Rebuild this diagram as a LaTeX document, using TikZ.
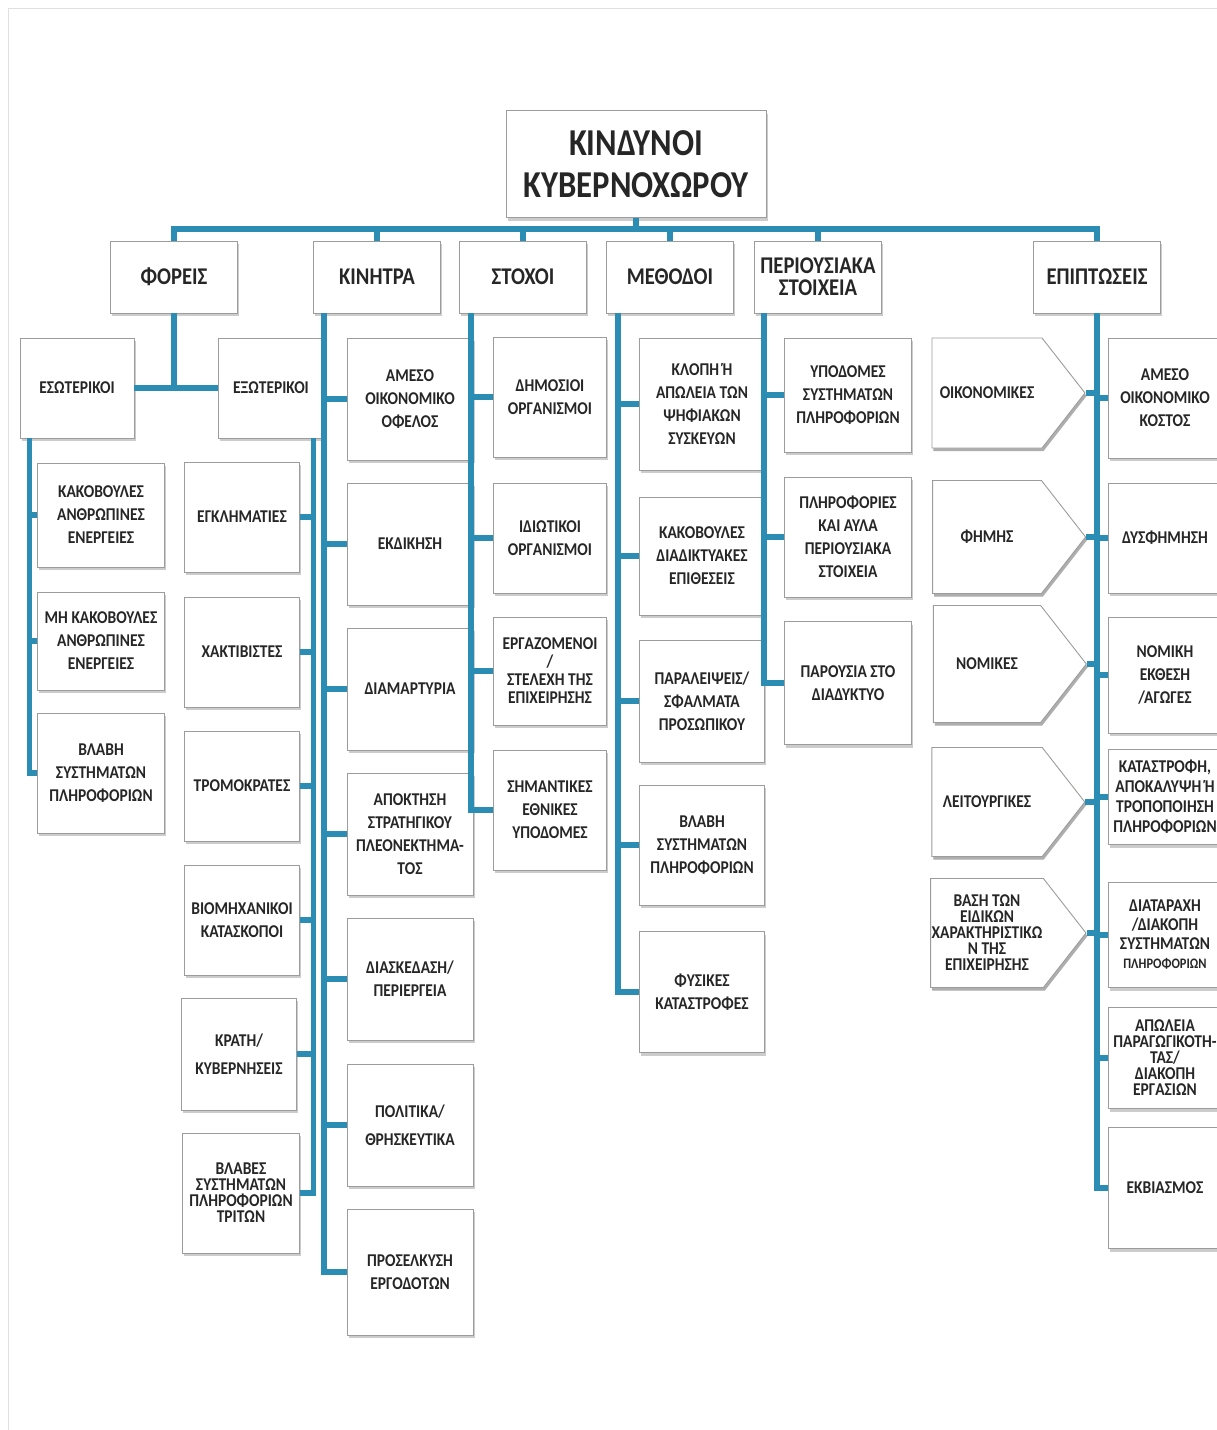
\documentclass[tikz,border=0pt]{standalone}
\usepackage{fontspec}
\setmainfont{Carlito}[FakeStretch=0.86]
\usepackage{tikz}
\usetikzlibrary{positioning,shadows,shapes.symbols}
\definecolor{cLine}{HTML}{2B8DB3}
\definecolor{cEdge}{HTML}{9C9C9C}
\definecolor{cTxt}{HTML}{262626}
\tikzset{
  box/.style={draw=cEdge,line width=0.9pt,fill=white,align=center,text=cTxt,
              inner sep=1pt,
              drop shadow={shadow xshift=1.5pt,shadow yshift=-3pt,opacity=.4}},
  sz/.style 2 args={minimum width=#1pt,minimum height=#2pt},
  title/.style={box,font=\bfseries\fontsize{38}{42}\selectfont},
  head/.style={box,sz={127}{72},font=\bfseries\fontsize{24}{22}\selectfont},
  leaf/.style={box,font=\bfseries\fontsize{18}{23}\selectfont},
  tight/.style={font=\bfseries\fontsize{18}{16}\selectfont},
  pent/.style={box,signal,signal to=east,signal pointer angle=104},
  bus/.style={draw=cLine,line width=5.5pt},
}

\begin{document}
\begin{tikzpicture}[x=1pt,y=-1pt]
  \useasboundingbox (0,0) rectangle (1217,1430);
  \clip (0,0) rectangle (1217,1430);
  \draw[black!12] (8,1430) -- (8,8) -- (1217,8);

  % root and first level
  \node[title,sz={260}{107}] (tit) at (636,164) {ΚΙΝΔΥΝΟΙ\\ΚΥΒΕΡΝΟΧΩΡΟΥ};
  \node[head] (hFor) at (174,277) {ΦΟΡΕΙΣ};
  \node[head] (hKin) at (377,277) {ΚΙΝΗΤΡΑ};
  \node[head] (hSto) at (523,277) {ΣΤΟΧΟΙ};
  \node[head] (hMet) at (670,277) {ΜΕΘΟΔΟΙ};
  \node[head] (hPer) at (818,277) {ΠΕΡΙΟΥΣΙΑΚΑ\\ΣΤΟΙΧΕΙΑ};
  \node[head] (hEpi) at (1097,277) {ΕΠΙΠΤΩΣΕΙΣ};

  % carriers
  \node[leaf,sz={114}{100}] (fIn) at (77,388) {ΕΣΩΤΕΡΙΚΟΙ};
  \node[leaf,sz={106}{100}] (fEx) at (271,388) {ΕΞΩΤΕΡΙΚΟΙ};
  \node[leaf,sz={127}{104}] (fin1) at (101,515) {ΚΑΚΟΒΟΥΛΕΣ\\ΑΝΘΡΩΠΙΝΕΣ\\ΕΝΕΡΓΕΙΕΣ};
  \node[leaf,sz={127}{98}]  (fin2) at (101,641) {ΜΗ ΚΑΚΟΒΟΥΛΕΣ\\ΑΝΘΡΩΠΙΝΕΣ\\ΕΝΕΡΓΕΙΕΣ};
  \node[leaf,sz={127}{120}] (fin3) at (101,773) {ΒΛΑΒΗ\\ΣΥΣΤΗΜΑΤΩΝ\\ΠΛΗΡΟΦΟΡΙΩΝ};
  \node[leaf,sz={115}{110}] (fex1) at (242,517) {ΕΓΚΛΗΜΑΤΙΕΣ};
  \node[leaf,sz={115}{110}] (fex2) at (242,652) {ΧΑΚΤΙΒΙΣΤΕΣ};
  \node[leaf,sz={115}{110}] (fex3) at (242,786) {ΤΡΟΜΟΚΡΑΤΕΣ};
  \node[leaf,sz={115}{110}] (fex4) at (242,920) {ΒΙΟΜΗΧΑΝΙΚΟΙ\\ΚΑΤΑΣΚΟΠΟΙ};
  \node[leaf,sz={115}{112}] (fex5) at (239,1054) {ΚΡΑΤΗ/\\[5pt]ΚΥΒΕΡΝΗΣΕΙΣ};
  \node[leaf,tight,sz={117}{120}] (fex6) at (241,1193) {ΒΛΑΒΕΣ\\ΣΥΣΤΗΜΑΤΩΝ\\ΠΛΗΡΟΦΟΡΙΩΝ\\ΤΡΙΤΩΝ};

  % motives
  \node[leaf,sz={126}{122}] (kin1) at (410,399) {ΑΜΕΣΟ\\ΟΙΚΟΝΟΜΙΚΟ\\ΟΦΕΛΟΣ};
  \node[leaf,sz={126}{122}] (kin2) at (410,544) {ΕΚΔΙΚΗΣΗ};
  \node[leaf,sz={126}{122}] (kin3) at (410,689) {ΔΙΑΜΑΡΤΥΡΙΑ};
  \node[leaf,sz={126}{122}] (kin4) at (410,834) {ΑΠΟΚΤΗΣΗ\\ΣΤΡΑΤΗΓΙΚΟΥ\\ΠΛΕΟΝΕΚΤΗΜΑ-\\ΤΟΣ};
  \node[leaf,sz={126}{122}] (kin5) at (410,979) {ΔΙΑΣΚΕΔΑΣΗ/\\ΠΕΡΙΕΡΓΕΙΑ};
  \node[leaf,sz={126}{122}] (kin6) at (410,1125) {ΠΟΛΙΤΙΚΑ/\\[5pt]ΘΡΗΣΚΕΥΤΙΚΑ};
  \node[leaf,sz={126}{126}] (kin7) at (410,1272) {ΠΡΟΣΕΛΚΥΣΗ\\ΕΡΓΟΔΟΤΩΝ};

  % targets
  \node[leaf,sz={113}{120}] (sto1) at (550,397) {ΔΗΜΟΣΙΟΙ\\ΟΡΓΑΝΙΣΜΟΙ};
  \node[leaf,sz={113}{110}] (sto2) at (550,538) {ΙΔΙΩΤΙΚΟΙ\\ΟΡΓΑΝΙΣΜΟΙ};
  \node[leaf,sz={113}{108},font=\bfseries\fontsize{18}{18}\selectfont] (sto3) at (550,671)
    {ΕΡΓΑΖΟΜΕΝΟΙ\\/\\ΣΤΕΛΕΧΗ ΤΗΣ\\ΕΠΙΧΕΙΡΗΣΗΣ};
  \node[leaf,sz={113}{120}] (sto4) at (550,810) {ΣΗΜΑΝΤΙΚΕΣ\\ΕΘΝΙΚΕΣ\\ΥΠΟΔΟΜΕΣ};

  % methods
  \node[leaf,sz={125}{132}] (met1) at (702,404) {ΚΛΟΠΗ Ή\\ΑΠΩΛΕΙΑ ΤΩΝ\\ΨΗΦΙΑΚΩΝ\\ΣΥΣΚΕΥΩΝ};
  \node[leaf,sz={125}{118}] (met2) at (702,556) {ΚΑΚΟΒΟΥΛΕΣ\\ΔΙΑΔΙΚΤΥΑΚΕΣ\\ΕΠΙΘΕΣΕΙΣ};
  \node[leaf,sz={125}{122}] (met3) at (702,701) {ΠΑΡΑΛΕΙΨΕΙΣ/\\ΣΦΑΛΜΑΤΑ\\ΠΡΟΣΩΠΙΚΟΥ};
  \node[leaf,sz={125}{120}] (met4) at (702,845) {ΒΛΑΒΗ\\ΣΥΣΤΗΜΑΤΩΝ\\ΠΛΗΡΟΦΟΡΙΩΝ};
  \node[leaf,sz={125}{121}] (met5) at (702,992) {ΦΥΣΙΚΕΣ\\ΚΑΤΑΣΤΡΟΦΕΣ};

  % assets
  \node[leaf,sz={127}{114}] (per1) at (848,395) {ΥΠΟΔΟΜΕΣ\\ΣΥΣΤΗΜΑΤΩΝ\\ΠΛΗΡΟΦΟΡΙΩΝ};
  \node[leaf,sz={127}{120}] (per2) at (848,537) {ΠΛΗΡΟΦΟΡΙΕΣ\\ΚΑΙ ΑΥΛΑ\\ΠΕΡΙΟΥΣΙΑΚΑ\\ΣΤΟΙΧΕΙΑ};
  \node[leaf,sz={127}{123}] (per3) at (848,683) {ΠΑΡΟΥΣΙΑ ΣΤΟ\\ΔΙΑΔΥΚΤΥΟ};

  % impacts
  \node[pent,leaf,sz={153}{110}] (epL1) at (987,393) {ΟΙΚΟΝΟΜΙΚΕΣ};
  \node[pent,leaf,sz={153}{113}] (epL2) at (987,537) {ΦΗΜΗΣ};
  \node[pent,leaf,sz={153}{117}] (epL3) at (987,664) {ΝΟΜΙΚΕΣ};
  \node[pent,leaf,sz={153}{109}] (epL4) at (987,802) {ΛΕΙΤΟΥΡΓΙΚΕΣ};
  \node[pent,leaf,tight,sz={153}{109}] (epL5) at (987,933)
    {ΒΑΣΗ ΤΩΝ\\ΕΙΔΙΚΩΝ\\ΧΑΡΑΚΤΗΡΙΣΤΙΚΩ\\Ν ΤΗΣ\\ΕΠΙΧΕΙΡΗΣΗΣ};
  \node[leaf,sz={114}{120}] (epR1) at (1165,398) {ΑΜΕΣΟ\\ΟΙΚΟΝΟΜΙΚΟ\\ΚΟΣΤΟΣ};
  \node[leaf,sz={114}{110}] (epR2) at (1165,538) {ΔΥΣΦΗΜΗΣΗ};
  \node[leaf,sz={114}{116}] (epR3) at (1165,675) {ΝΟΜΙΚΗ\\ΕΚΘΕΣΗ\\/ΑΓΩΓΕΣ};
  \node[leaf,sz={114}{95},font=\bfseries\fontsize{18}{20}\selectfont] (epR4) at (1165,797)
    {ΚΑΤΑΣΤΡΟΦΗ,\\ΑΠΟΚΑΛΥΨΗ Ή\\ΤΡΟΠΟΠΟΙΗΣΗ\\ΠΛΗΡΟΦΟΡΙΩΝ};
  \node[leaf,sz={114}{105},font=\bfseries\fontsize{18}{19}\selectfont] (epR5) at (1165,935)
    {ΔΙΑΤΑΡΑΧΗ\\/ΔΙΑΚΟΠΗ\\ΣΥΣΤΗΜΑΤΩΝ\\{\fontsize{14.5}{19}\selectfont ΠΛΗΡΟΦΟΡΙΩΝ}};
  \node[leaf,tight,sz={114}{101}] (epR6) at (1165,1058)
    {ΑΠΩΛΕΙΑ\\ΠΑΡΑΓΩΓΙΚΟΤΗ-\\ΤΑΣ/\\ΔΙΑΚΟΠΗ\\ΕΡΓΑΣΙΩΝ};
  \node[leaf,sz={114}{121}] (epR7) at (1165,1188) {ΕΚΒΙΑΣΜΟΣ};

  % top bus
  \coordinate (busL) at (174,229);
  \draw[bus] (tit.south) -- (tit.south |- busL);
  \draw[bus] (hFor.north) -- (busL) -| (hEpi.north);
  \foreach \h in {hKin,hSto,hMet,hPer}
    \draw[bus] (\h.north) -- (\h.north |- busL);

  % carriers
  \draw[bus] (hFor.south) -- (hFor.south |- fIn.east);
  \draw[bus] (fIn.east) -- (fEx.west);
  \coordinate (inL) at ([xshift=10pt]fIn.south west);
  \draw[bus] (inL) |- (fin3.west);
  \foreach \n in {fin1,fin2}
    \draw[bus] (inL |- \n.west) -- (\n.west);
  \coordinate (exR) at ([xshift=-11pt]fEx.south east);
  \draw[bus] (exR) |- (fex6.east);
  \foreach \n in {fex1,fex2,fex3,fex4,fex5}
    \draw[bus] (exR |- \n.east) -- (\n.east);

  % motives, targets, methods, assets
  \coordinate (kiL) at ([xshift=11pt]hKin.south west);
  \draw[bus] (kiL) |- (kin7.west);
  \foreach \n in {kin1,kin2,kin3,kin4,kin5,kin6}
    \draw[bus] (kiL |- \n.west) -- (\n.west);
  \coordinate (stL) at ([xshift=12pt]hSto.south west);
  \draw[bus] (stL) |- (sto4.west);
  \foreach \n in {sto1,sto2,sto3}
    \draw[bus] (stL |- \n.west) -- (\n.west);
  \coordinate (meL) at ([xshift=12pt]hMet.south west);
  \draw[bus] (meL) |- (met5.west);
  \foreach \n in {met1,met2,met3,met4}
    \draw[bus] (meL |- \n.west) -- (\n.west);
  \coordinate (peL) at ([xshift=10pt]hPer.south west);
  \draw[bus] (peL) |- (per3.west);
  \foreach \n in {per1,per2}
    \draw[bus] (peL |- \n.west) -- (\n.west);

  % impacts
  \draw[bus] (hEpi.south) |- (epR7.west);
  \foreach \n in {epR1,epR2,epR3,epR4,epR5,epR6}
    \draw[bus] (hEpi.south |- \n.west) -- (\n.west);
  \foreach \n in {epL1,epL2,epL3,epL4,epL5}
    \draw[bus] (\n.east) -- (hEpi.south |- \n.east);
\end{tikzpicture}
\end{document}
